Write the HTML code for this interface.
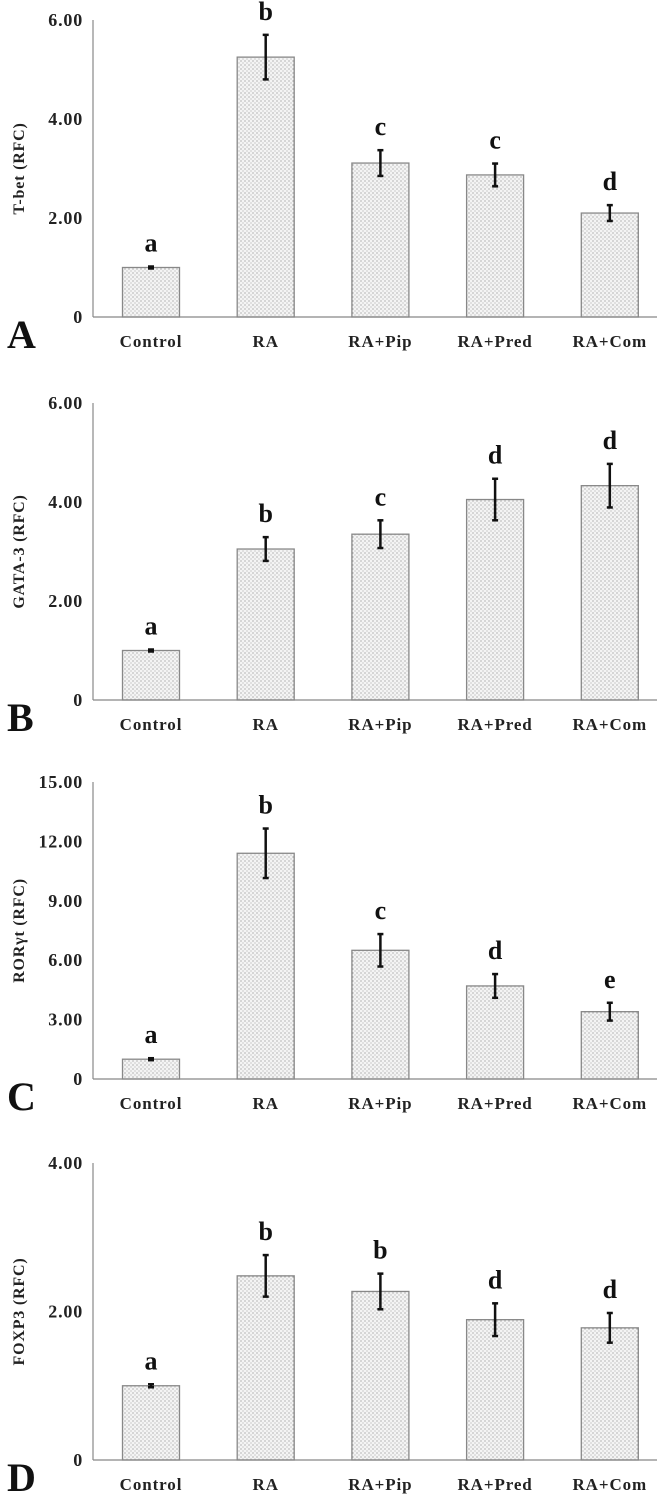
<!DOCTYPE html>
<html><head><meta charset="utf-8"><style>
html,body{margin:0;padding:0;background:#fff;}
svg{display:block;font-family:"Liberation Serif",serif;}
</style></head><body>
<svg id="chart" width="670" height="1499" viewBox="0 0 670 1499">
<defs>
<pattern id="dots" width="4" height="4" patternUnits="userSpaceOnUse">
<rect width="4" height="4" fill="#f4f4f4"/>
<circle cx="1" cy="1" r="0.6" fill="#8a8a8a"/>
<circle cx="3" cy="3" r="0.6" fill="#b0b0b0"/>
</pattern>
</defs>
</svg>
<script>
const categories = ["Control","RA","RA+Pip","RA+Pred","RA+Com"];
const tbetValues = [1.0, 5.25, 3.11, 2.87, 2.1];
const tbetErrors = [0.02, 0.45, 0.26, 0.23, 0.16];
const tbetLetters = ["a","b","c","c","d"];
const tbetTicks = ["0","2.00","4.00","6.00"];
const gataValues = [1.0, 3.05, 3.35, 4.05, 4.33];
const gataErrors = [0.02, 0.24, 0.28, 0.42, 0.44];
const gataLetters = ["a","b","c","d","d"];
const gataTicks = ["0","2.00","4.00","6.00"];
const rorValues = [1.0, 11.4, 6.5, 4.7, 3.4];
const rorErrors = [0.05, 1.25, 0.82, 0.6, 0.45];
const rorLetters = ["a","b","c","d","e"];
const rorTicks = ["0","3.00","6.00","9.00","12.00","15.00"];
const foxValues = [1.0, 2.48, 2.27, 1.89, 1.78];
const foxErrors = [0.02, 0.28, 0.24, 0.22, 0.2];
const foxLetters = ["a","b","b","d","d"];
const foxTicks = ["0","2.00","4.00"];

const svg = document.getElementById('chart');
const NS = 'http://www.w3.org/2000/svg';
function mk(tag, attrs, parent){const e=document.createElementNS(NS,tag);for(const k in attrs)e.setAttribute(k,attrs[k]);parent.appendChild(e);return e;}

const panels = [
 {id:'tbet', title:'T-bet (RFC)', tag:'A', vals:tbetValues, errs:tbetErrors, letters:tbetLetters, ticks:tbetTicks, top:20, zero:317},
 {id:'gata', title:'GATA-3 (RFC)', tag:'B', vals:gataValues, errs:gataErrors, letters:gataLetters, ticks:gataTicks, top:403, zero:700},
 {id:'ror', title:'RORγt (RFC)', tag:'C', vals:rorValues, errs:rorErrors, letters:rorLetters, ticks:rorTicks, top:782, zero:1079},
 {id:'fox', title:'FOXP3 (RFC)', tag:'D', vals:foxValues, errs:foxErrors, letters:foxLetters, ticks:foxTicks, top:1163, zero:1460}
];
const axisX = 93, axisEnd = 657, barW = 57;
function xCenter(i){ return 151 + i*114.7; }

panels.forEach(p=>{
  const g = mk('g',{},svg);
  
  
  const maxV = parseFloat(p.ticks[p.ticks.length-1]);
  const y = v => p.zero - (v/maxV)*(p.zero-p.top);
  const ya = mk('line',{x1:axisX,y1:p.top,x2:axisX,y2:p.zero,stroke:'#888','stroke-width':1.2},g);
  
  
  p.ticks.forEach(t=>{
    const tl = mk('text',{x:83,y:y(parseFloat(t))+6,'text-anchor':'end','font-size':18,'font-weight':'bold','letter-spacing':0.8,fill:'#222'},g);
    tl.textContent = t;
    
    
  });
  const cy = (p.top+p.zero)/2;
  const yt = mk('text',{x:0,y:0,transform:`translate(24,${cy}) rotate(-90)`,'text-anchor':'middle','font-size':16,'font-weight':'bold','letter-spacing':0.8,fill:'#222'},g);
  yt.textContent = p.title;
  
  
  p.vals.forEach((v,i)=>{
    const xc = xCenter(i);
    const r = mk('rect',{x:xc-barW/2,y:y(v),width:barW,height:p.zero-y(v),fill:'url(#dots)',stroke:'#888','stroke-width':1.3},g);
    
    
    const e = p.errs[i];
    const eg = mk('g',{stroke:'#111','stroke-width':2.5},g);
    
    
    mk('line',{x1:xc,y1:y(v+e),x2:xc,y2:y(v-e)},eg);
    mk('line',{x1:xc-3,y1:y(v+e),x2:xc+3,y2:y(v+e)},eg);
    mk('line',{x1:xc-3,y1:y(v-e),x2:xc+3,y2:y(v-e)},eg);
    const lt = mk('text',{x:xc,y:y(v+e)-15,'text-anchor':'middle','font-size':26,'font-weight':'bold',fill:'#111'},g);
    lt.textContent = p.letters[i];
    
    
    const cl = mk('text',{x:xc,y:p.zero+30,'text-anchor':'middle','font-size':17,'font-weight':'bold','letter-spacing':0.9,fill:'#222'},g);
    cl.textContent = categories[i];
    
    
  });
  const xa = mk('line',{x1:axisX,y1:p.zero,x2:axisEnd,y2:p.zero,stroke:'#888','stroke-width':1.3},g);
  
  
  const pl = mk('text',{x:7,y:p.zero+31,'font-size':40,'font-weight':'bold',fill:'#111'},g);
  pl.textContent = p.tag;
  
  
});
</script>
</body></html>
